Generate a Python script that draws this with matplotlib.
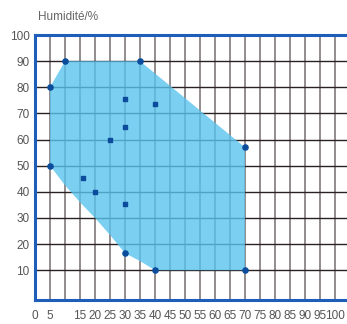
import matplotlib
matplotlib.use('Agg')
import matplotlib.pyplot as plt
import numpy as np

# zone outline (temperature, humidity), lower-left edge is curved
zone_x = [5, 10, 35, 70, 70, 40, 35, 30, 25, 20, 15, 10, 5]
zone_y = [80, 90, 90, 57, 10, 10, 13.5, 16.5, 23.5, 30, 36, 42.5, 50]

# corner points marked with circles
corner_x = [5, 10, 35, 70, 70, 40, 30, 5]
corner_y = [80, 90, 90, 57, 10, 10, 16.5, 50]

# square samples
sample_x = [30, 40, 30, 25, 16, 20, 30]
sample_y = [75.7, 73.5, 64.7, 60, 45.2, 39.8, 35.2]

x_ticks = [0, 5, 15, 20, 25, 30, 35, 40, 45, 50, 55, 60, 65, 70, 75, 80, 85, 90, 95, 100]
y_ticks = [10, 20, 30, 40, 50, 60, 70, 80, 90, 100]

plt.rcParams['font.family'] = ['Liberation Sans', 'DejaVu Sans']

fig = plt.figure(figsize=(3.47, 3.24), dpi=100)
# axes run past the right edge of the figure, so there is no right border
ax = fig.add_axes([35 / 347, 24 / 324, 330 / 347, 265 / 324])
ax.set_xlim(0, 110)
ax.set_ylim(-1.4, 100)

for v in np.arange(5, 105, 5):
    ax.axvline(v, color='#8a8484', lw=1.3, zorder=1)
for h in np.arange(10, 100, 10):
    ax.axhline(h, color='#2a2222', lw=1.0, zorder=1)

ax.fill(zone_x, zone_y, color='#5ac3ee', alpha=0.8, lw=0, zorder=2)
ax.scatter(corner_x, corner_y, s=14, marker='o', color='#0b4d9c', zorder=3)
ax.scatter(sample_x, sample_y, s=12, marker='s', color='#0b4d9c', zorder=3)

# blue frame on left, top and bottom only
for s in ax.spines.values():
    s.set_visible(False)
ax.axvline(0, color='#1d5fb8', lw=2.2, zorder=4, clip_on=False)
ax.axhline(100, color='#1d5fb8', lw=2.2, zorder=4, clip_on=False)
ax.axhline(-1.4, color='#1d5fb8', lw=2.2, zorder=4, clip_on=False)

ax.set_xticks(x_ticks)
ax.set_xticklabels([str(t) for t in x_ticks])
ax.set_yticks(y_ticks)
ax.set_yticklabels([str(t) for t in y_ticks])
ax.tick_params(length=0, labelsize=8.5, labelcolor='#555555')
ax.tick_params(axis='x', pad=7)
ax.tick_params(axis='y', pad=4)

fig.text(38 / 347, 1 - 17 / 324, 'Humidité/%', fontsize=8.5, color='#666666', va='center')

fig.savefig('out.png', dpi=100)
